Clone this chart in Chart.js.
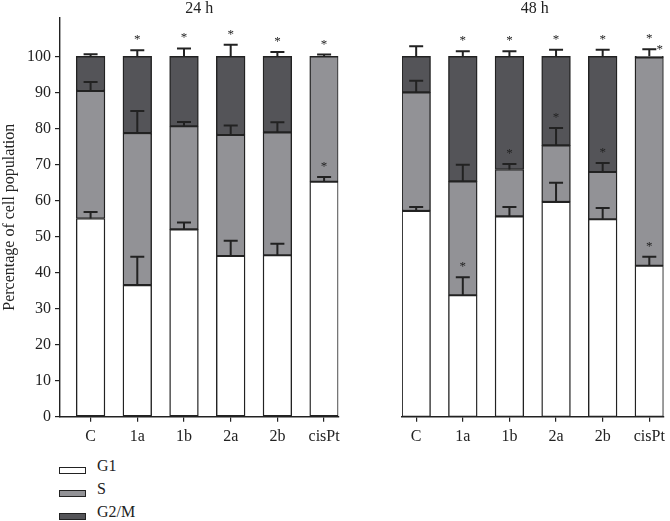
<!DOCTYPE html>
<html>
<head>
<meta charset="utf-8">
<script src="https://cdn.jsdelivr.net/npm/chart.js@4.4.1/dist/chart.umd.min.js"></script>
<style>
  body { margin: 0; background: #fff; }
  #wrap { position: relative; width: 670px; height: 521px; overflow: hidden; }
  #c24 { position: absolute; left: 0; top: 0; }
  #c48 { position: absolute; left: 383px; top: 0; }
  .leg { position: absolute; left: 59px; font: 16px 'Liberation Serif', 'DejaVu Serif', serif; color: #222; }
  .leg span.box { position: absolute; left: 0; width: 25px; height: 5px; border: 1.5px solid #222; }
  .leg span.txt { position: absolute; left: 38px; top: -10px; white-space: nowrap; }
</style>
</head>
<body>
<div id="wrap">
  <canvas id="c24" width="345" height="450"></canvas>
  <canvas id="c48" width="287" height="450"></canvas>
  <div id="legend"></div>
</div>
<script>
// categories and phases
var categories = ['C', '1a', '1b', '2a', '2b', 'cisPt'];
var phases = ['G1', 'S', 'G2/M'];

// 24 h: percentage of cells in each phase
var g1_24 = [55.0, 36.5, 52.0, 44.6, 44.8, 65.2];
var s_24 = [35.4, 42.2, 28.6, 33.6, 34.1, 34.8];
var g2m_24 = [9.6, 21.3, 19.4, 21.8, 21.1, 0];
// 24 h: error (SD) above each segment
var g1Err_24 = [1.8, 7.9, 1.9, 4.2, 3.2, 1.3];
var sErr_24 = [2.5, 6.1, 1.2, 2.6, 2.8, 0];
var g2mErr_24 = [0.6, 1.7, 2.2, 3.2, 1.2, 0.5];
// 24 h: significance marks (1 = *, 2 = two stars)
var g1Star_24 = [0, 0, 0, 0, 0, 1];
var sStar_24 = [0, 0, 0, 0, 0, 0];
var g2mStar_24 = [0, 1, 1, 1, 1, 1];

// 48 h
var g1_48 = [57.1, 33.7, 55.6, 59.6, 54.8, 41.9];
var s_48 = [32.9, 31.6, 13.0, 15.7, 13.1, 57.8];
var g2m_48 = [10.0, 34.7, 31.4, 24.7, 32.1, 0.3];
var g1Err_48 = [1.1, 5.0, 2.6, 5.3, 3.1, 2.5];
var sErr_48 = [3.2, 4.6, 1.5, 4.8, 2.5, 0];
var g2mErr_48 = [2.8, 1.4, 1.4, 1.8, 1.8, 2.0];
var g1Star_48 = [0, 1, 0, 0, 0, 1];
var sStar_48 = [0, 0, 1, 1, 1, 0];
var g2mStar_48 = [0, 1, 1, 1, 1, 2];

var yTicks = [0, 10, 20, 30, 40, 50, 60, 70, 80, 90, 100];

var colors = ['#ffffff', '#929296', '#545458'];
var ink = '#222222';
var serif = "'Liberation Serif', 'DejaVu Serif', serif";

Chart.defaults.font.family = serif;
Chart.defaults.font.size = 16;
Chart.defaults.color = ink;

function points(values) {
    return values.map(function (v, i) { return { x: i, y: v }; });
}

function makeDatasets(vals, errs, stars) {
    return vals.map(function (v, k) {
        return {
            label: phases[k],
            data: points(v),
            err: errs[k],
            stars: stars[k],
            backgroundColor: colors[k],
            borderColor: ink,
            borderWidth: 1.4,
            borderSkipped: false,
            barThickness: 28.7
        };
    });
}

// error bars and stars on top of each segment
var errorBars = {
    id: 'errorBars',
    afterDatasetsDraw: function (chart) {
        var ctx = chart.ctx;
        var y = chart.scales.y;
        var sums = categories.map(function () { return 0; });
        ctx.save();
        chart.data.datasets.forEach(function (ds, k) {
            var meta = chart.getDatasetMeta(k);
            ds.data.forEach(function (p, i) {
                sums[i] += p.y;
                var bar = meta.data[i];
                var top = y.getPixelForValue(sums[i]);
                var cap = y.getPixelForValue(sums[i] + ds.err[i]);
                if (ds.err[i] > 0) {
                    ctx.strokeStyle = ink;
                    ctx.lineWidth = 2;
                    ctx.beginPath();
                    ctx.moveTo(bar.x, top);
                    ctx.lineTo(bar.x, cap);
                    ctx.moveTo(bar.x - 7, cap);
                    ctx.lineTo(bar.x + 7, cap);
                    ctx.stroke();
                }
                if (ds.stars[i] > 0) {
                    ctx.fillStyle = ink;
                    ctx.font = '13px ' + serif;
                    ctx.textAlign = 'center';
                    ctx.textBaseline = 'alphabetic';
                    ctx.fillText('*', bar.x, cap - 7);
                    if (ds.stars[i] > 1) {
                        ctx.fillText('*', bar.x + 10.5, cap + 3.5);
                    }
                }
            });
        });
        ctx.restore();
    }
};

function makeChart(id, title, datasets, xMin, showY, pad) {
    return new Chart(document.getElementById(id), {
        type: 'bar',
        data: { datasets: datasets },
        plugins: [errorBars],
        options: {
            responsive: false,
            animation: false,
            layout: { padding: pad },
            plugins: {
                legend: { display: false },
                tooltip: { enabled: false },
                title: {
                    display: true,
                    text: title,
                    fullSize: !showY,
                    font: { size: 16, weight: 'normal', lineHeight: 1.08 },
                    color: ink,
                    padding: { top: 0, bottom: 0 }
                }
            },
            scales: {
                x: {
                    type: 'linear',
                    stacked: true,
                    offset: false,
                    min: xMin,
                    max: 5.304,
                    afterBuildTicks: function (s) {
                        s.ticks = categories.map(function (c, i) { return { value: i }; });
                    },
                    afterFit: function (s) { s.height = 33.3; },
                    ticks: {
                        callback: function (v) { return categories[v]; },
                        padding: 5,
                        maxRotation: 0,
                        autoSkip: false
                    },
                    grid: { offset: false, drawOnChartArea: false, drawTicks: true, tickLength: 5, color: ink, lineWidth: 1.2 },
                    border: { display: true, color: ink, width: 1.4 }
                },
                y: {
                    display: showY,
                    stacked: true,
                    min: 0,
                    max: 110.7,
                    afterBuildTicks: function (s) {
                        s.ticks = yTicks.map(function (v) { return { value: v }; });
                    },
                    afterFit: function (s) { s.width = showY ? 60 : 0; },
                    ticks: { padding: 4 },
                    title: {
                        display: true,
                        text: 'Percentage of cell population',
                        font: { size: 16 },
                        color: ink,
                        padding: 0
                    },
                    grid: { drawOnChartArea: false, drawTicks: true, tickLength: 5, color: ink, lineWidth: 1.2 },
                    border: { display: true, color: ink, width: 1.4 }
                }
            }
        }
    });
}

makeChart('c24', '24 h',
    makeDatasets([g1_24, s_24, g2m_24], [g1Err_24, sErr_24, g2mErr_24], [g1Star_24, sStar_24, g2mStar_24]),
    -0.655, true, { left: 0, right: 3.3, top: 0.5, bottom: 0 });

makeChart('c48', '48 h',
    makeDatasets([g1_48, s_48, g2m_48], [g1Err_48, sErr_48, g2mErr_48], [g1Star_48, sStar_48, g2mStar_48]),
    -0.304, false, { left: 19, right: 2.5, top: 0.5, bottom: 0 });

// legend
var legend = document.getElementById('legend');
var rowY = [467, 489.5, 512.5];
phases.forEach(function (p, k) {
    var row = document.createElement('div');
    row.className = 'leg';
    row.style.top = rowY[k] + 'px';
    row.innerHTML = '<span class="box" style="background:' + colors[k] + '"></span><span class="txt">' + p + '</span>';
    legend.appendChild(row);
});
</script>
</body>
</html>
